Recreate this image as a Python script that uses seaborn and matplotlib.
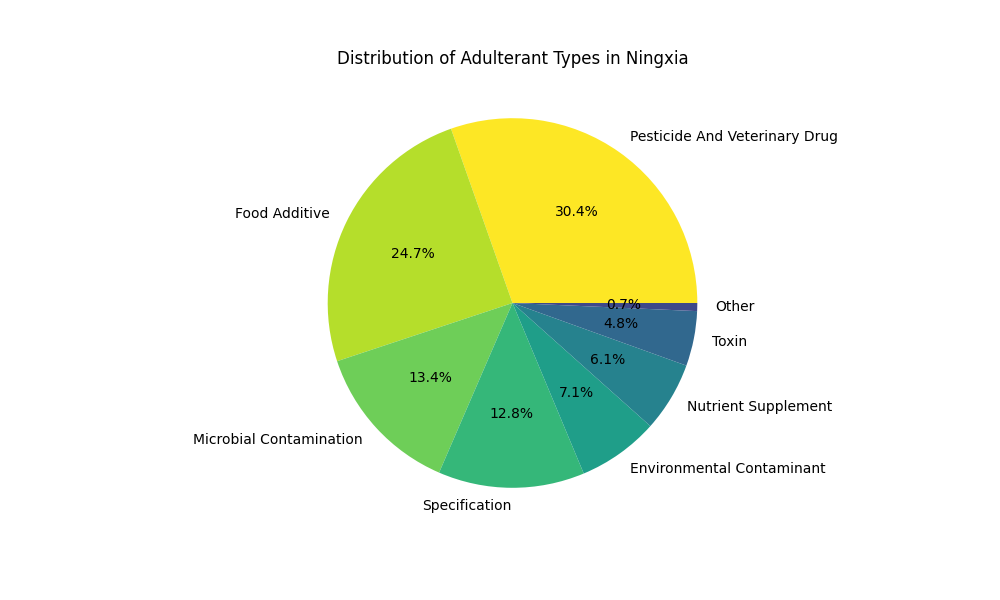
import matplotlib
matplotlib.use("Agg")
import matplotlib.pyplot as plt
import numpy as np
import seaborn as sns

categories = [
    "Pesticide And Veterinary Drug",
    "Food Additive",
    "Microbial Contamination",
    "Specification",
    "Environmental Contaminant",
    "Nutrient Supplement",
    "Toxin",
    "Other",
]
shares = [30.4, 24.7, 13.4, 12.8, 7.1, 6.1, 4.8, 0.7]

cmap = sns.color_palette("viridis", as_cmap=True)
colors = cmap(np.linspace(1, 0, 10))[: len(categories)]

plt.figure(figsize=(10, 6))
plt.pie(shares, labels=categories, colors=colors, autopct="%1.1f%%")
plt.title("Distribution of Adulterant Types in Ningxia")
plt.savefig("out.png", dpi=100)
plt.close()
